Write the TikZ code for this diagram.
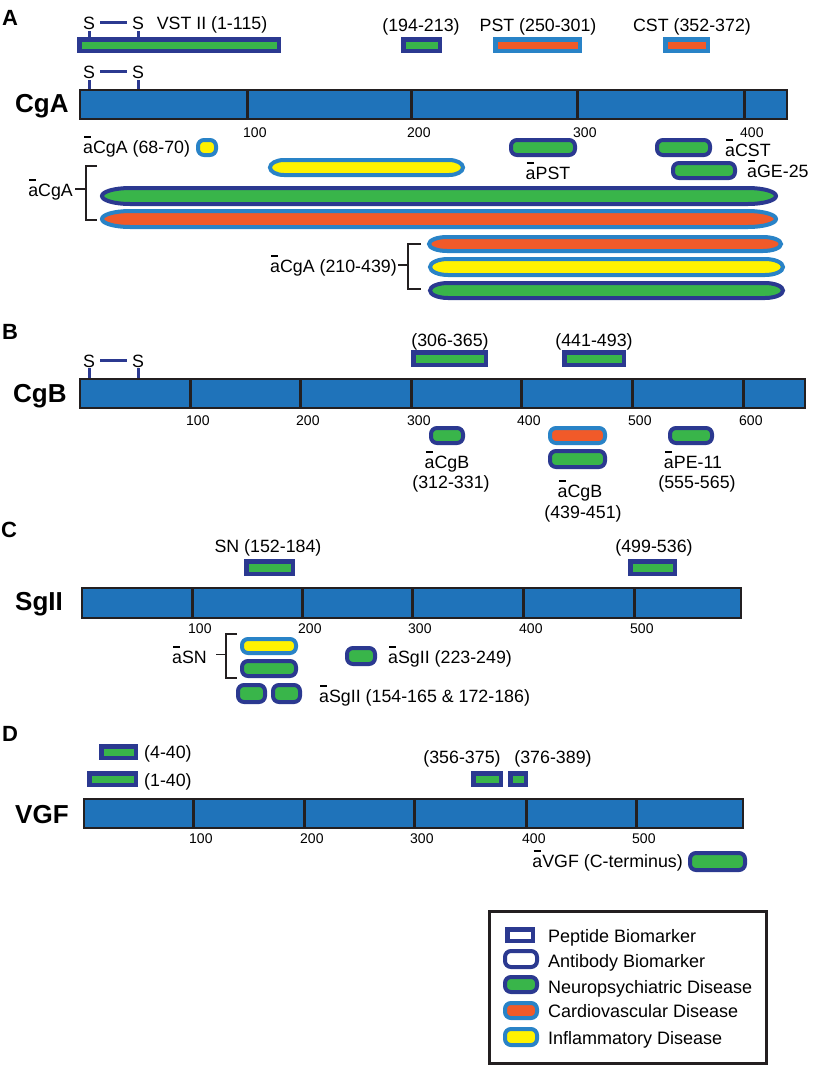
\documentclass[tikz,border=0pt]{standalone}
\usepackage{fontspec}
\setmainfont{Liberation Sans}
\definecolor{navy}{RGB}{43,57,144}
\definecolor{lblue}{RGB}{41,131,199}
\definecolor{barblue}{RGB}{31,115,186}
\definecolor{pgreen}{RGB}{57,181,74}
\definecolor{porange}{RGB}{241,90,41}
\definecolor{pyellow}{RGB}{255,242,0}
\definecolor{ink}{RGB}{35,31,32}
\newcommand{\abar}{\leavevmode\rlap{\hspace{0.06em}\raisebox{0.86em}{\rule{0.4em}{0.12em}}}a}
\newcommand{\pepbox}[5]{\draw[#5] ({#1+2.25},{#2+2.25}) rectangle ({#3-2.25},{#4-2.25});}
\newcommand{\abox}[5]{\draw[#5,rounded corners=6pt] ({#1+2},{#2+2}) rectangle ({#3-2},{#4-2});}
\newcommand{\along}[6]{%
  \pgfmathsetmacro\myXa{#2+2}\pgfmathsetmacro\myYa{#3+2}%
  \pgfmathsetmacro\myXb{#4-2}\pgfmathsetmacro\myYb{#5-2}%
  \pgfmathsetmacro\myCy{(\myYa+\myYb)/2}\pgfmathsetmacro\myRy{(\myYb-\myYa)/2}%
  \pgfmathsetmacro\myL{\myXa+#1}\pgfmathsetmacro\myR{\myXb-#1}%
  \pgfmathsetmacro\myKx{0.5523*#1}\pgfmathsetmacro\myKy{0.5523*\myRy}%
  \draw[#6] (\myL,\myYa) -- (\myR,\myYa)
    .. controls ({\myR+\myKx},\myYa) and (\myXb,{\myCy-\myKy}) .. (\myXb,\myCy)
    .. controls (\myXb,{\myCy+\myKy}) and ({\myR+\myKx},\myYb) .. (\myR,\myYb)
    -- (\myL,\myYb)
    .. controls ({\myL-\myKx},\myYb) and (\myXa,{\myCy+\myKy}) .. (\myXa,\myCy)
    .. controls (\myXa,{\myCy-\myKy}) and ({\myL-\myKx},\myYa) .. (\myL,\myYa) -- cycle;}
\tikzset{
  lbl/.style={font=\fontsize{17.8}{20}\selectfont, inner sep=0pt},
  leglbl/.style={font=\fontsize{18}{20}\selectfont, inner sep=0pt, anchor=base west},
  ticklbl/.style={font=\fontsize{14}{16}\selectfont, inner sep=0pt, anchor=base west},
  prot/.style={font=\bfseries\fontsize{26}{30}\selectfont, inner sep=0pt, anchor=base west},
  panel/.style={font=\bfseries\fontsize{22}{26}\selectfont, inner sep=0pt, anchor=base west},
  protbar/.style={fill=barblue, draw=ink, line width=1.2pt},
  tickmark/.style={draw=ink, line width=3pt},
  neuro/.style={draw=navy, fill=pgreen, line width=4pt},
  cardio/.style={draw=lblue, fill=porange, line width=4pt},
  inflam/.style={draw=lblue, fill=pyellow, line width=4pt},
  antiw/.style={draw=navy, fill=white, line width=4pt},
  pepn/.style={draw=navy, fill=pgreen, line width=4.5pt},
  pepc/.style={draw=lblue, fill=porange, line width=4.5pt},
  pepw/.style={draw=navy, fill=white, line width=4.5pt},
  ssbond/.style={draw=navy, line width=3pt},
  brk/.style={draw=ink, line width=1.3pt},
}
\begin{document}
\begin{tikzpicture}[x=1pt,y=-1pt]
\useasboundingbox (0,0) rectangle (812,1066);
\fill[white] (0,0) rectangle (812,1066);

%% ---------------- Panel A ----------------
\node[panel] (pA) at (2,25) {A};
\node[lbl,anchor=base] (sA1) at (89,29) {S};
\node[lbl,anchor=base] (sA2) at (138,29) {S};
\draw[ssbond] ([xshift=5pt]sA1.east) -- ([xshift=-5pt]sA2.west);
\draw[ssbond] ([yshift=-2pt]sA1.south) -- ([yshift=-9pt]sA1.south);
\draw[ssbond] ([yshift=-2pt]sA2.south) -- ([yshift=-9pt]sA2.south);
\node[lbl,anchor=base] (vst) at (212,29) {VST II (1-115)};
\node[lbl,anchor=base] (p194) at (421,31.5) {(194-213)};
\node[lbl,anchor=base] (pst) at (538,31.5) {PST (250-301)};
\node[lbl,anchor=base] (cst) at (692,31.5) {CST (352-372)};
\pepbox{77}{37}{281}{53}{pepn}
\pepbox{401}{37}{442}{53}{pepn}
\pepbox{493}{37}{582}{53}{pepc}
\pepbox{663}{37}{710}{53}{pepc}

\node[lbl,anchor=base] (sA3) at (89,78) {S};
\node[lbl,anchor=base] (sA4) at (138,78) {S};
\draw[ssbond] ([xshift=5pt]sA3.east) -- ([xshift=-5pt]sA4.west);
\draw[ssbond] ([yshift=-2pt]sA3.south) -- ([yshift=-12pt]sA3.south);
\draw[ssbond] ([yshift=-2pt]sA4.south) -- ([yshift=-12pt]sA4.south);
\node[prot] (cga) at (15,112) {CgA};
\draw[protbar] (80,90) rectangle (787,119);
\foreach \t/\l [count=\i] in {247/100,411/200,577/300,744/400}{
  \draw[tickmark] (\t,90) -- (\t,119);
  \node[ticklbl] (tA\i) at ({\t-4},137) {\l};
}
\node[lbl,anchor=base west] (l6870) at (83,153) {\abar CgA (68-70)};
\abox{196}{138}{218}{157}{inflam}
\abox{509}{138}{577}{157}{neuro}
\node[lbl,anchor=base] (lpst) at (548,179) {\abar PST};
\abox{655}{138}{712}{157}{neuro}
\node[lbl,anchor=base west] (lcst) at (725,156) {\abar CST};
\abox{671}{161}{737}{180}{neuro}
\node[lbl,anchor=base west] (lge) at (747,177) {\abar GE-25};
\along{14}{268}{158}{465}{177}{inflam}
\along{28}{100}{186}{778}{206}{neuro}
\along{28}{100}{209}{778}{229}{cardio}
\node[lbl,anchor=base east] (lcga) at (73,196) {\abar CgA};
\coordinate (bA1) at (86,166);
\coordinate (bA2) at (86,220);
\draw[brk] ([xshift=2pt]lcga.east) -- (lcga.east -| bA1);
\draw[brk] ([xshift=11pt]bA1) -- (bA1) -- (bA2) -- ([xshift=11pt]bA2);
\along{18}{427}{235}{783}{253}{cardio}
\along{18}{428}{257}{785}{277}{inflam}
\along{18}{428}{281}{785}{300}{neuro}
\node[lbl,anchor=base east] (lcga2) at (397,272) {\abar CgA (210-439)};
\coordinate (bA3) at (408,244);
\coordinate (bA4) at (408,289);
\draw[brk] ([xshift=1pt]lcga2.east) -- (lcga2.east -| bA3);
\draw[brk] ([xshift=13pt]bA3) -- (bA3) -- (bA4) -- ([xshift=13pt]bA4);

%% ---------------- Panel B ----------------
\node[panel] (pB) at (2,339) {B};
\node[lbl,anchor=base] (sB1) at (89,367) {S};
\node[lbl,anchor=base] (sB2) at (138,367) {S};
\draw[ssbond] ([xshift=5pt]sB1.east) -- ([xshift=-5pt]sB2.west);
\draw[ssbond] ([yshift=-1pt]sB1.south) -- ([yshift=-12pt]sB1.south);
\draw[ssbond] ([yshift=-1pt]sB2.south) -- ([yshift=-12pt]sB2.south);
\node[lbl,anchor=base] (p306) at (450,346) {(306-365)};
\node[lbl,anchor=base] (p441) at (594,346) {(441-493)};
\pepbox{411}{350}{488}{367}{pepn}
\pepbox{562}{350}{626}{367}{pepn}
\node[prot] (cgb) at (13,402) {CgB};
\draw[protbar] (80,379) rectangle (805,408);
\foreach \t/\l [count=\i] in {190/100,300/200,411/300,521/400,632/500,743/600}{
  \draw[tickmark] (\t,379) -- (\t,408);
  \node[ticklbl] (tB\i) at ({\t-4},425) {\l};
}
\abox{429}{426}{465}{445}{neuro}
\node[lbl,anchor=base] (lcgb1) at (447,468) {\abar CgB};
\node[lbl,anchor=base] (lcgb1r) at (451,488) {(312-331)};
\abox{548}{426}{607}{445}{cardio}
\abox{548}{449}{607}{469}{neuro}
\node[lbl,anchor=base] (lcgb2) at (580,497) {\abar CgB};
\node[lbl,anchor=base] (lcgb2r) at (583,518) {(439-451)};
\abox{668}{426}{714}{445}{neuro}
\node[lbl,anchor=base] (lpe) at (693,468) {\abar PE-11};
\node[lbl,anchor=base] (lper) at (697,488) {(555-565)};

%% ---------------- Panel C ----------------
\node[panel] (pC) at (1,537) {C};
\node[lbl,anchor=base] (psn) at (268,552) {SN (152-184)};
\node[lbl,anchor=base] (p499) at (654,552) {(499-536)};
\pepbox{244}{559}{295}{576}{pepn}
\pepbox{628}{559}{677}{576}{pepn}
\node[prot] (sgii) at (15,610) {SgII};
\draw[protbar] (82,588) rectangle (741,618);
\foreach \t/\l [count=\i] in {192/100,302/200,412/300,523/400,634/500}{
  \draw[tickmark] (\t,588) -- (\t,618);
  \node[ticklbl] (tC\i) at ({\t-4},633) {\l};
}
\abox{240}{637}{298}{655}{inflam}
\abox{240}{659}{298}{678}{neuro}
\node[lbl,anchor=base east] (lsn) at (207,663) {\abar SN};
\coordinate (bC1) at (226,634);
\coordinate (bC2) at (226,678);
\draw[brk] ([xshift=9pt]lsn.east) -- (lsn.east -| bC1);
\draw[brk] ([xshift=11pt]bC1) -- (bC1) -- (bC2) -- ([xshift=11pt]bC2);
\abox{345}{646}{377}{666}{neuro}
\node[lbl,anchor=base west] (lsg1) at (388,663) {\abar SgII (223-249)};
\abox{236}{683}{267}{704}{neuro}
\abox{271}{683}{302}{704}{neuro}
\node[lbl,anchor=base west] (lsg2) at (319,702) {\abar SgII (154-165 \& 172-186)};

%% ---------------- Panel D ----------------
\node[panel] (pD) at (2,741) {D};
\pepbox{99}{744}{138}{760}{pepn}
\node[lbl,anchor=base west] (p440) at (144,758) {(4-40)};
\pepbox{87}{771}{138}{787}{pepn}
\node[lbl,anchor=base west] (p140) at (144,786) {(1-40)};
\node[lbl,anchor=base] (p356) at (462,763) {(356-375)};
\node[lbl,anchor=base] (p376) at (553,763) {(376-389)};
\pepbox{471}{771}{503}{787}{pepn}
\pepbox{508}{771}{528}{787}{pepn}
\node[prot] (vgf) at (15,823) {VGF};
\draw[protbar] (84,799) rectangle (743,828);
\foreach \t/\l [count=\i] in {193/100,304/200,414/300,526/400,636/500}{
  \draw[tickmark] (\t,799) -- (\t,828);
  \node[ticklbl] (tD\i) at ({\t-4},843) {\l};
}
\abox{688}{851}{747}{872}{neuro}
\node[lbl,anchor=base east] (lvgf) at (683,867) {\abar VGF (C-terminus)};

%% ---------------- Legend ----------------
\draw[line width=3pt, draw=ink] (489.5,911.5) rectangle (766.5,1063.5);
\pepbox{505}{927}{535}{943}{pepw}
\node[leglbl] (g1) at (548,942) {Peptide Biomarker};
\abox{503}{949}{539}{969}{antiw}
\node[leglbl] (g2) at (548,967) {Antibody Biomarker};
\abox{503}{975}{539}{994}{neuro}
\node[leglbl] (g3) at (548,993) {Neuropsychiatric Disease};
\abox{503}{1001}{539}{1020}{cardio}
\node[leglbl] (g4) at (548,1017) {Cardiovascular Disease};
\abox{503}{1027}{539}{1047}{inflam}
\node[leglbl] (g5) at (548,1044) {Inflammatory Disease};
\end{tikzpicture}
\end{document}
